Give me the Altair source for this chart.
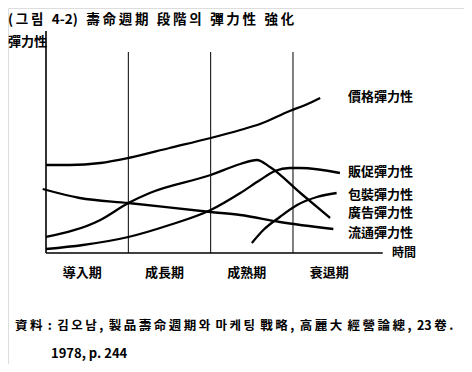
import altair as alt
import pandas as pd

# ---- data ----
phases = ["導入期", "成長期", "成熟期", "衰退期"]
series_names = ["價格彈力性", "販促彈力性", "包裝彈力性", "廣告彈力性", "流通彈力性"]

price_x = [0.0, 0.29, 0.66, 1.0, 1.5, 2.0, 2.36, 2.6, 2.96, 3.15, 3.33]
price_y = [44, 44, 45, 47.5, 52.5, 57.5, 61.5, 64.5, 71, 74, 77.5]

promo_x = [0.0, 0.45, 1.0, 1.5, 2.0, 2.36, 2.6, 2.78, 2.96, 3.09, 3.57]
promo_y = [2, 4, 8, 14, 21.5, 30, 36.5, 41, 42.5, 42.5, 40]

pack_x = [2.5, 2.64, 2.84, 3.05, 3.29, 3.53]
pack_y = [5, 11.5, 18, 24, 28, 30]

ad_x = [0.0, 0.66, 1.0, 1.26, 2.0, 2.36, 2.56, 2.72, 3.09, 3.45]
ad_y = [8, 16.5, 25, 30, 39, 44.5, 46.5, 43, 30, 17.5]

dist_x = [-0.04, 0.41, 1.0, 2.0, 2.36, 2.84, 3.49]
dist_y = [32, 27.5, 25, 20.5, 19, 15.5, 12]

title_text = "(그림 4-2) 壽命週期 段階의 彈力性 強化"
y_title = "彈力性"
x_title = "時間"
source_1 = "資料 : 김오남, 製品壽命週期와 마케팅 戰略, 高麗大 經營論總, 23卷."
source_2 = "1978, p. 244"


def is_cjk(ch):
    return ord(ch) >= 0x2E80


def spaced(s, gap):
    """Approximate the loose typesetting of the scan with thin spaces."""
    out = ""
    for i, ch in enumerate(s):
        if ch == " ":
            out += gap
            continue
        out += ch
        if i + 1 < len(s):
            nx = s[i + 1]
            if nx != " " and (is_cjk(ch) or is_cjk(nx)):
                out += "\u2009"
    return out


# ---- build tables ----
rows = []
for name, xs_, ys_ in [
    (series_names[0], price_x, price_y),
    (series_names[1], promo_x, promo_y),
    (series_names[2], pack_x, pack_y),
    (series_names[3], ad_x, ad_y),
    (series_names[4], dist_x, dist_y),
]:
    for i, (a, b) in enumerate(zip(xs_, ys_)):
        rows.append({"series": name, "t": a, "e": b, "order": i})
curves = pd.DataFrame(rows)

FONT = "Noto Sans CJK KR"
xs = alt.Scale(domain=[-0.4615, 5.077], nice=False, zero=False)
ys = alt.Scale(domain=[-55.5, 122.5], nice=False, zero=False)

lines = alt.Chart(curves).mark_line(
    color="black", strokeWidth=2.3, interpolate="monotone"
).encode(
    x=alt.X("t:Q", scale=xs, axis=None),
    y=alt.Y("e:Q", scale=ys, axis=None),
    detail="series:N",
    order="order:Q",
)

frame = pd.DataFrame({
    "x": [0, 0, 1, 2, 3],
    "x2": [0, 4.09, 1, 2, 3],
    "y": [0, 0, 0, 0, 0],
    "y2": [111, 0, 100.5, 100.5, 100.5],
    "w": [1.6, 1.6, 1.0, 1.0, 1.0],
})
rules = alt.Chart(frame).mark_rule(color="black").encode(
    x=alt.X("x:Q", scale=xs, axis=None),
    x2="x2:Q",
    y=alt.Y("y:Q", scale=ys, axis=None),
    y2="y2:Q",
    strokeWidth=alt.StrokeWidth("w:Q", scale=None, legend=None),
)

phase_df = pd.DataFrame({"p": phases, "c": [i + 0.5 for i in range(len(phases))]})
phase_text = alt.Chart(phase_df).mark_text(
    font=FONT, fontSize=13, fontWeight="bold", dx=-5, baseline="middle"
).encode(
    x=alt.X("c:Q", scale=xs, axis=None),
    y=alt.value(265),
    text="p:N",
)

layers = [rules, lines, phase_text]


def txt(s, px, py, size=13, weight="bold", align="left", baseline="middle"):
    return alt.Chart(pd.DataFrame({"s": [s]})).mark_text(
        font=FONT, fontSize=size, fontWeight=weight, align=align, baseline=baseline
    ).encode(x=alt.value(px), y=alt.value(py), text="s:N")


label_y = [89, 164, 187, 205, 225]
for name, ly in zip(series_names, label_y):
    layers.append(txt(name, 340, ly))

layers.append(txt(spaced(title_text, "\u2009 \u2009"), 0, 5, size=13.5, baseline="top"))
layers.append(txt(y_title, 0, 34, size=13))
layers.append(txt(x_title, 384, 245, size=12))
layers.append(txt(spaced(source_1, "\u2009 "), 7, 318, size=12.5))
layers.append(txt(source_2, 43, 346, size=13))

chart = alt.layer(*layers).properties(
    width=456, height=356, padding=0,
    autosize=alt.AutoSizeParams(type="none"),
).configure_view(stroke=None).configure(background="white")

chart.save("out.html", embed_options={"renderer": "svg", "actions": False})
